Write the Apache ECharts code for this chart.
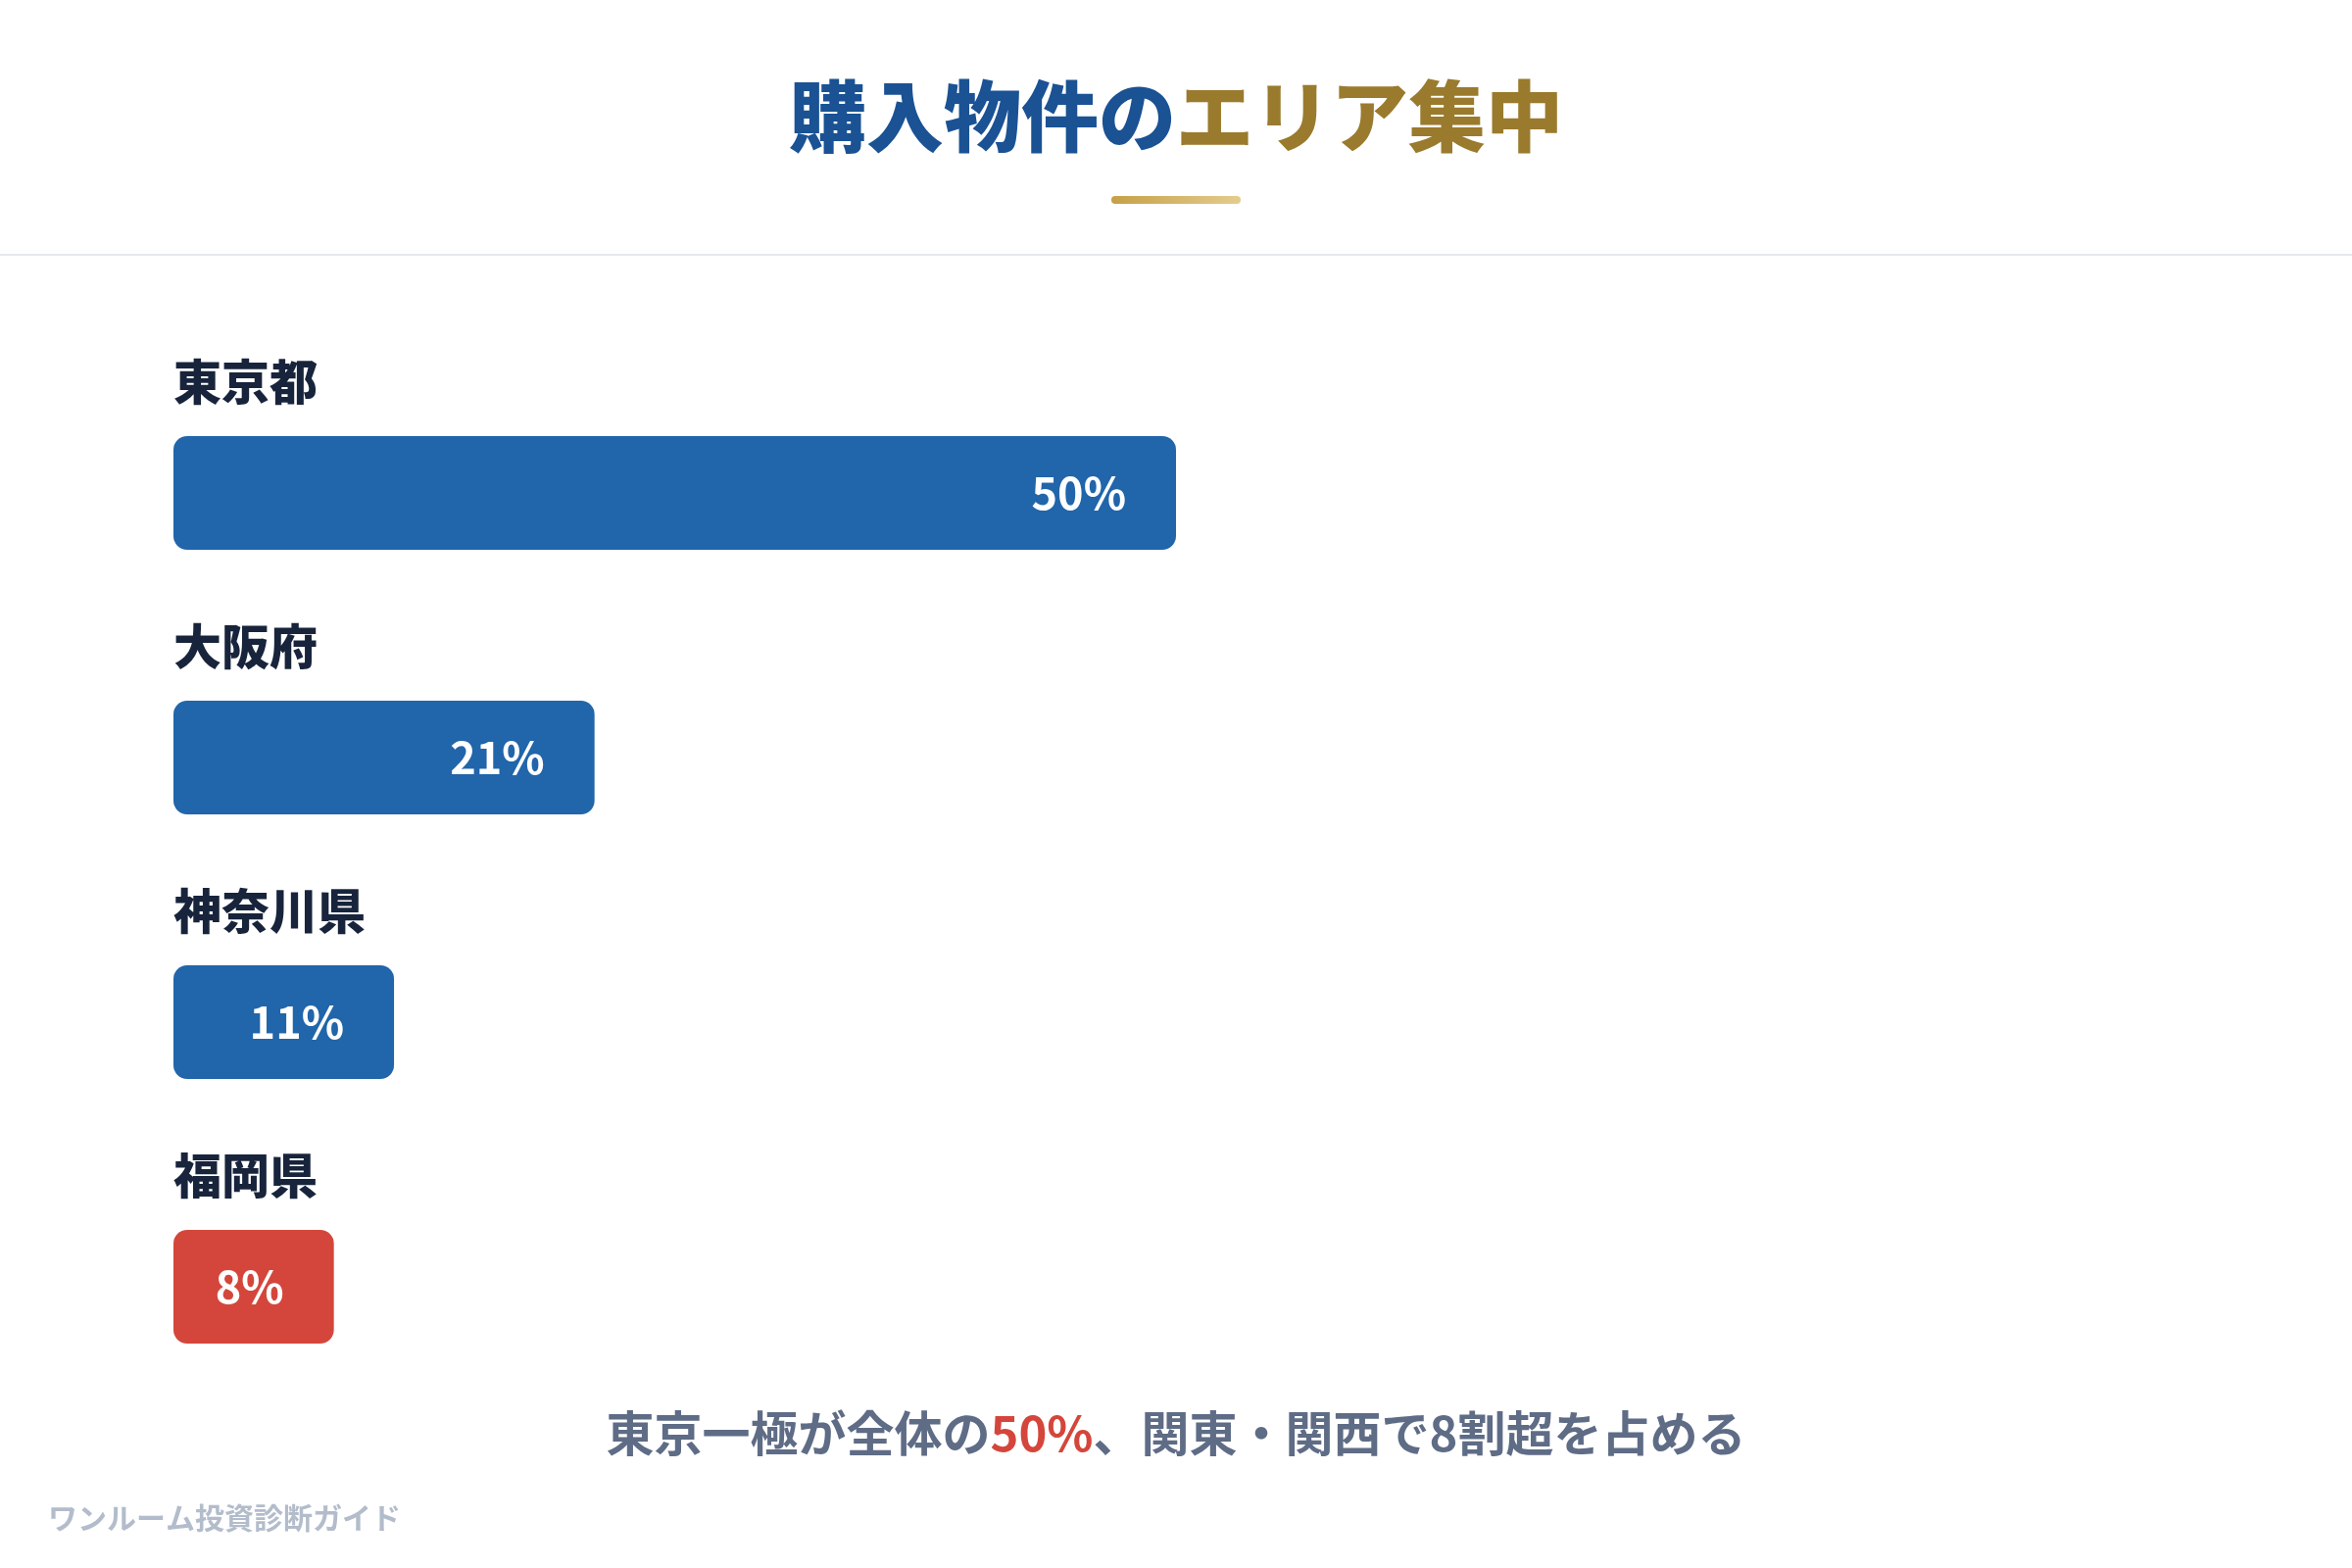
<!DOCTYPE html>
<html lang="ja">
<head>
    <meta charset="UTF-8">
    <title>購入物件のエリア集中</title>
    <script src="https://cdn.jsdelivr.net/npm/echarts@6/dist/echarts.min.js"></script>
    <style>
        html, body { margin: 0; padding: 0; background: #fff; }
    </style>
</head>
<body>
<div id="main" style="width:2400px; height:1600px;"></div>
<script>
    // data
    var areas = ['東京都', '大阪府', '神奈川県', '福岡県'];
    var shares = [50, 21, 11, 8];
    var highlightArea = '福岡県';

    var blue = '#2165aa';
    var red = '#d4463b';
    var font = '"Noto Sans CJK JP", "Noto Sans", sans-serif';

    var myChart = echarts.init(document.getElementById('main'));

    var option = {
        backgroundColor: '#ffffff',
        title: [
            {
                text: '{a|購入物件の}{b|エリア集中}',
                left: 'center',
                top: 74,
                textStyle: {
                    rich: {
                        a: { fontFamily: font, fontSize: 79, fontWeight: 900, color: '#1a5294', lineHeight: 80 },
                        b: { fontFamily: font, fontSize: 79, fontWeight: 900, color: '#9a7a2d', lineHeight: 80 }
                    }
                }
            },
            {
                text: '{a|東京一極が全体の}{b|50%}{a|、関東・関西で8割超を占める}',
                left: 'center',
                top: 1432,
                textStyle: {
                    rich: {
                        a: { fontFamily: font, fontSize: 49, fontWeight: 700, color: '#5f6c86', lineHeight: 50 },
                        b: { fontFamily: font, fontSize: 49, fontWeight: 700, color: red, lineHeight: 50 }
                    }
                }
            },
            {
                text: 'ワンルーム投資診断ガイド',
                left: 44,
                top: 1529,
                textStyle: { fontFamily: font, fontSize: 30, fontWeight: 700, color: '#b3bccb', lineHeight: 30 }
            }
        ],
        graphic: [
            {
                type: 'rect',
                shape: { x: 1134, y: 200, width: 132, height: 8, r: 4 },
                style: {
                    fill: new echarts.graphic.LinearGradient(0, 0, 1, 0, [
                        { offset: 0, color: '#c6a048' },
                        { offset: 1, color: '#e4cc8e' }
                    ])
                }
            },
            {
                type: 'rect',
                shape: { x: 0, y: 259, width: 2400, height: 2 },
                style: { fill: '#e6e8ee' }
            }
        ],
        grid: { left: 177, right: 177, top: 368, bottom: 152 },
        xAxis: {
            type: 'value',
            min: 0,
            max: 100,
            show: false
        },
        yAxis: {
            type: 'category',
            data: areas,
            inverse: true,
            show: false
        },
        series: [
            {
                type: 'bar',
                data: shares,
                barWidth: 116,
                itemStyle: {
                    borderRadius: 14,
                    color: function (p) { return p.name === highlightArea ? red : blue; }
                },
                label: {
                    show: true,
                    position: 'insideRight',
                    distance: 51,
                    formatter: '{c}%',
                    color: '#ffffff',
                    fontFamily: font,
                    fontSize: 45,
                    fontWeight: 700
                },
                silent: true
            },
            {
                // transparent twin bar that only carries the area name above each bar
                type: 'bar',
                data: shares,
                barWidth: 116,
                barGap: '-100%',
                itemStyle: { color: 'rgba(0,0,0,0)' },
                label: {
                    show: true,
                    position: [0, -56],
                    align: 'left',
                    verticalAlign: 'middle',
                    formatter: '{b}',
                    color: '#18243b',
                    fontFamily: font,
                    fontSize: 49,
                    fontWeight: 900
                },
                silent: true
            }
        ]
    };
    myChart.setOption(option);
</script>
</body>
</html>
